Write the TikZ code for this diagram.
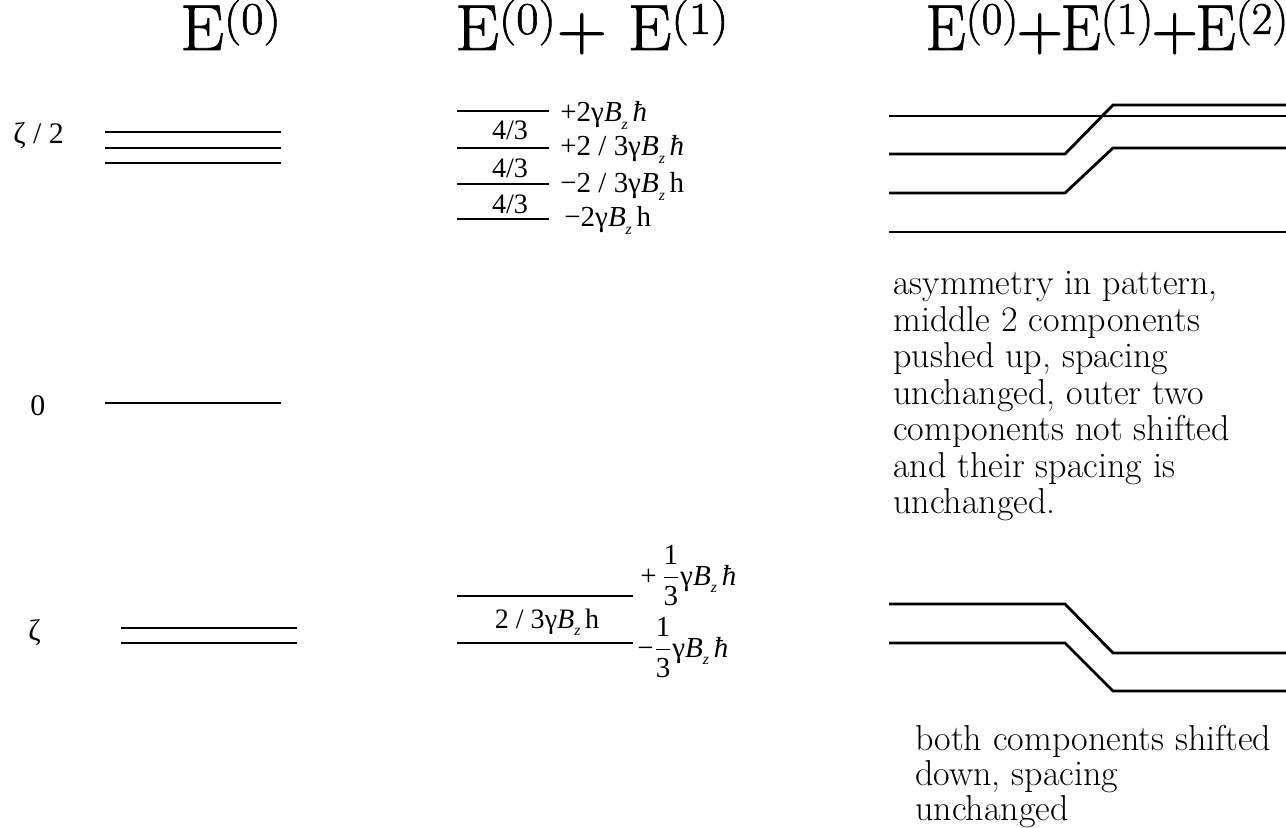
\documentclass[tikz,border=0pt]{standalone}
\usepackage{amsmath}
\usepackage{fontspec}
\newfontfamily\timesfont{Liberation Serif}
\newfontfamily\titlefont{Latin Modern Roman}[FakeBold=1.2]
\usepackage{tikz}

\newcommand{\zsub}{\raisebox{-0.55ex}{\fontsize{9}{9}\selectfont\textit{z}}}
\newcommand{\gBz}{γ\textit{B}\zsub}
\newcommand{\Eord}[1]{E\textsuperscript{(#1)}}
\newcommand{\tplus}{\kern-1.5pt+\kern-1.5pt}

\tikzset{
  level/.style={line width=1.6pt},
  title/.style={font=\titlefont\fontsize{37}{40}\selectfont, anchor=base west, inner sep=0pt},
  energy/.style={font=\timesfont\fontsize{17}{20}\selectfont, anchor=base west, inner sep=0pt},
  shiftlbl/.style={font=\timesfont\fontsize{16.5}{19}\selectfont, anchor=base west, inner sep=0pt},
  gaplbl/.style={font=\timesfont\fontsize{16}{18}\selectfont, anchor=base, inner sep=0pt},
  remark/.style={font=\fontsize{20.5}{20.8}\selectfont, align=left, anchor=north west, inner sep=0pt},
}

\begin{document}
\begin{tikzpicture}[x=0.02cm,y=-0.02cm]
  \useasboundingbox (0,0) rectangle (1286,828);

  \node[title] (t0) at (180,50) {\scalebox{1.07}[1]{\Eord{0}}};
  \node[title] (t1) at (455,50) {\scalebox{1.07}[1]{\Eord{0}+ \Eord{1}}};
  \node[title] (t2) at (925,50) {\scalebox{0.99}[1]{\Eord{0}\tplus\Eord{1}\tplus\Eord{2}}};

  \node[energy] (ehalf) at (13,144) {ζ / 2};
  \draw[level] (105,132) -- (281,132);
  \draw[level] (105,148) -- (281,148);
  \draw[level] (105,163) -- (281,163);
  \node[energy] (ezero) at (30,415) {0};
  \draw[level] (105,403) -- (281,403);
  \node[energy] (ezeta) at (28,640) {ζ};
  \draw[level] (121,628) -- (297,628);
  \draw[level] (121,643) -- (297,643);

  \draw[level] (457,111) -- (549,111);
  \draw[level] (457,148) -- (549,148);
  \draw[level] (457,184) -- (549,184);
  \draw[level] (457,219) -- (549,219);
  \node[shiftlbl] (s1) at (560,122) {+2\gBz\,\textit{ħ}};
  \node[shiftlbl] (s2) at (560,156) {+2 / 3\gBz\,\textit{ħ}};
  \node[shiftlbl] (s3) at (560,193) {−2 / 3\gBz\,h};
  \node[shiftlbl] (s4) at (564,227) {−2\gBz\,h};
  \node[gaplbl] (g1) at (510,140) {4/3};
  \node[gaplbl] (g2) at (510,177) {4/3};
  \node[gaplbl] (g3) at (510,214) {4/3};

  \draw[level] (457,596) -- (633,596);
  \draw[level] (457,643) -- (633,643);
  \node[gaplbl] (g4) at (547,628) {2 / 3\gBz\,h};
  \node[shiftlbl] (s5) at (640,585) {+\,\(\dfrac{\text{1}}{\text{3}}\)\gBz\,\textit{ħ}};
  \node[shiftlbl] (s6) at (637,657) {−\(\dfrac{\text{1}}{\text{3}}\)\gBz\,\textit{ħ}};

  \draw[level] (889,116) -- (1286,116);
  \draw[level] (889,154) -- (1065,154) -- (1113,105) -- (1286,105);
  \draw[level] (889,193) -- (1065,193) -- (1113,148) -- (1286,148);
  \draw[level] (889,232) -- (1286,232);
  \node[remark] (r1) at (893,271) {asymmetry in pattern,\\ middle 2 components\\ pushed up, spacing\\ unchanged, outer two\\ components not shifted\\ and their spacing is\\ unchanged.};

  \draw[level] (889,604) -- (1065,604) -- (1113,653) -- (1286,653);
  \draw[level] (889,643) -- (1065,643) -- (1113,691) -- (1286,691);
  \node[remark, font=\fontsize{20.5}{19.8}\selectfont] (r2) at (915,725) {both components shifted\\ down, spacing\\ unchanged};
\end{tikzpicture}
\end{document}
